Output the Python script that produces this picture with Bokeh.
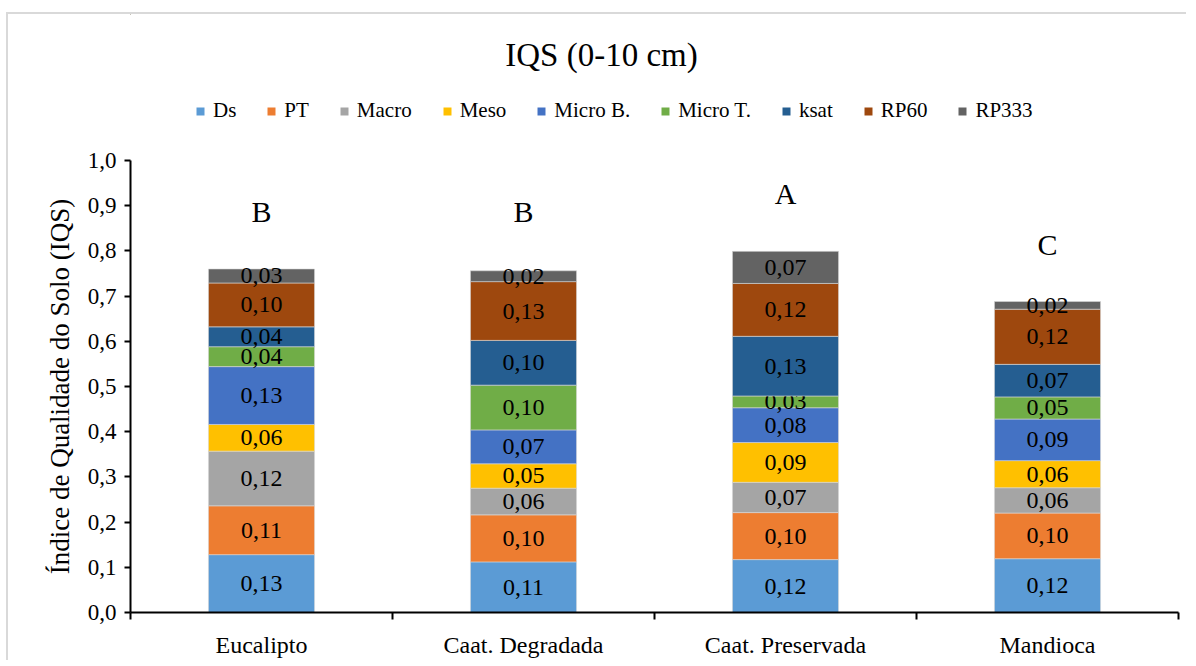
from bokeh.plotting import figure
from bokeh.layouts import column
from bokeh.models import (ColumnDataSource, Legend, LegendItem, FixedTicker,
                          CustomJSTickFormatter, Range1d, Label)
from bokeh.core.properties import value
from bokeh.embed import file_html
from bokeh.resources import INLINE

categories = ["Eucalipto", "Caat. Degradada", "Caat. Preservada", "Mandioca"]
series = ["Ds", "PT", "Macro", "Meso", "Micro B.", "Micro T.", "ksat", "RP60", "RP333"]
colors = ["#5B9BD5", "#ED7D31", "#A5A5A5", "#FFC000", "#4472C4", "#70AD47",
          "#255E91", "#9E480E", "#636363"]

Ds = [0.128, 0.112, 0.117, 0.119]
PT = [0.108, 0.104, 0.104, 0.101]
Macro = [0.121, 0.059, 0.067, 0.056]
Meso = [0.059, 0.054, 0.088, 0.060]
MicroB = [0.128, 0.075, 0.077, 0.092]
MicroT = [0.044, 0.099, 0.026, 0.049]
ksat = [0.044, 0.099, 0.132, 0.072]
RP60 = [0.097, 0.130, 0.117, 0.122]
RP333 = [0.031, 0.024, 0.071, 0.017]
letters = ["B", "B", "A", "C"]
letter_y = [0.888, 0.888, 0.927, 0.815]

values = [Ds, PT, Macro, Meso, MicroB, MicroT, ksat, RP60, RP333]

FONT = "Liberation Serif"
W = 1180
TOP_H = 134

# ---- header figure: title + legend (frame aligned with the main chart) ----
h = figure(width=W, height=TOP_H, output_backend="svg", toolbar_location=None,
           x_range=Range1d(130, 1178), y_range=Range1d(146, 12),
           min_border=0, min_border_top=0, min_border_bottom=0)
h.axis.visible = False
h.grid.visible = False
h.outline_line_color = None
h.styles = {"border-top": "2px solid #d9d9d9", "border-left": "2px solid #d9d9d9"}

items = []
for name, col in zip(series, colors):
    r = h.vbar(x=[-5000], width=1, top=[0], fill_color=col, line_color=None)
    items.append(LegendItem(label=name, renderers=[r]))

h.add_layout(Label(x=601, y=52, text="IQS (0-10 cm)", text_font=FONT,
                   text_font_size="33px", text_align="center",
                   text_baseline="middle", text_color="black"))

legend = Legend(items=items, orientation="horizontal", location=(65, 25),
                label_text_font=FONT, label_text_font_size="21px",
                label_text_color="black",
                glyph_width=10, glyph_height=10, spacing=30, label_standoff=8,
                padding=0, margin=0, border_line_color=None,
                background_fill_alpha=0, label_height=22)
h.add_layout(legend, "center")

# ---- main chart ----
p = figure(width=W, height=514, output_backend="svg", toolbar_location=None,
           x_range=Range1d(0, 4), y_range=Range1d(0, 1.0),
           min_border_left=122, min_border_right=10, min_border_top=14,
           min_border_bottom=46)
p.styles = {"border-left": "2px solid #d9d9d9"}

xs = [i + 0.5 for i in range(len(categories))]
bottoms = [0.0] * len(categories)
for name, vals, col in zip(series, values, colors):
    tops = [b + v for b, v in zip(bottoms, vals)]
    src = ColumnDataSource(dict(x=xs, bottom=bottoms, top=tops,
                                mid=[(b + t) / 2 for b, t in zip(bottoms, tops)],
                                lab=[f"{v:.2f}".replace(".", ",") for v in vals]))
    p.vbar(x="x", width=0.405, bottom="bottom", top="top", source=src,
           fill_color=col, line_color="#d9d9d9", line_width=0.6)
    p.text(x="x", y="mid", text="lab", source=src, text_font=value(FONT),
           text_font_size="24px", text_align="center", text_baseline="middle",
           text_color="black")
    bottoms = tops

lsrc = ColumnDataSource(dict(x=xs, y=letter_y, t=letters))
p.text(x="x", y="y", text="t", source=lsrc, text_font=value(FONT),
       text_font_size="30px", text_align="center", text_baseline="middle",
       text_color="black")

p.xaxis.ticker = FixedTicker(ticks=xs, minor_ticks=[0, 1, 2, 3, 4])
p.xaxis.major_label_overrides = {x: c for x, c in zip(xs, categories)}
p.xaxis.major_tick_out = 0
p.xaxis.major_tick_in = 0
p.xaxis.minor_tick_out = 7
p.xaxis.minor_tick_in = 0
p.xaxis.minor_tick_line_color = "black"
p.xaxis.minor_tick_line_width = 2
p.xaxis.axis_line_color = "black"
p.xaxis.axis_line_width = 2
p.xaxis.major_label_text_font = FONT
p.xaxis.major_label_text_font_size = "24px"
p.xaxis.major_label_text_color = "black"
p.xaxis.major_label_standoff = 12

p.yaxis.ticker = FixedTicker(ticks=[i / 10 for i in range(11)], minor_ticks=[])
p.yaxis.formatter = CustomJSTickFormatter(code="return tick.toFixed(1).replace('.', ',');")
p.yaxis.major_tick_out = 6
p.yaxis.major_tick_in = 0
p.yaxis.major_tick_line_width = 2
p.yaxis.axis_line_width = 2
p.yaxis.axis_line_color = "black"
p.yaxis.major_label_text_font = FONT
p.yaxis.major_label_text_font_size = "23px"
p.yaxis.major_label_text_color = "black"
p.yaxis.major_label_standoff = 8
p.yaxis.axis_label = "Índice de Qualidade do Solo (IQS)"
p.yaxis.axis_label_text_font = FONT
p.yaxis.axis_label_text_font_size = "27px"
p.yaxis.axis_label_text_font_style = "normal"
p.yaxis.axis_label_text_color = "black"
p.yaxis.axis_label_standoff = 10

p.xgrid.grid_line_color = None
p.ygrid.grid_line_color = None
p.outline_line_color = None

layout = column(h, p, spacing=0)
layout.styles = {"margin-left": "6px", "margin-top": "12px"}
open("out.html", "w").write(file_html(layout, INLINE))
